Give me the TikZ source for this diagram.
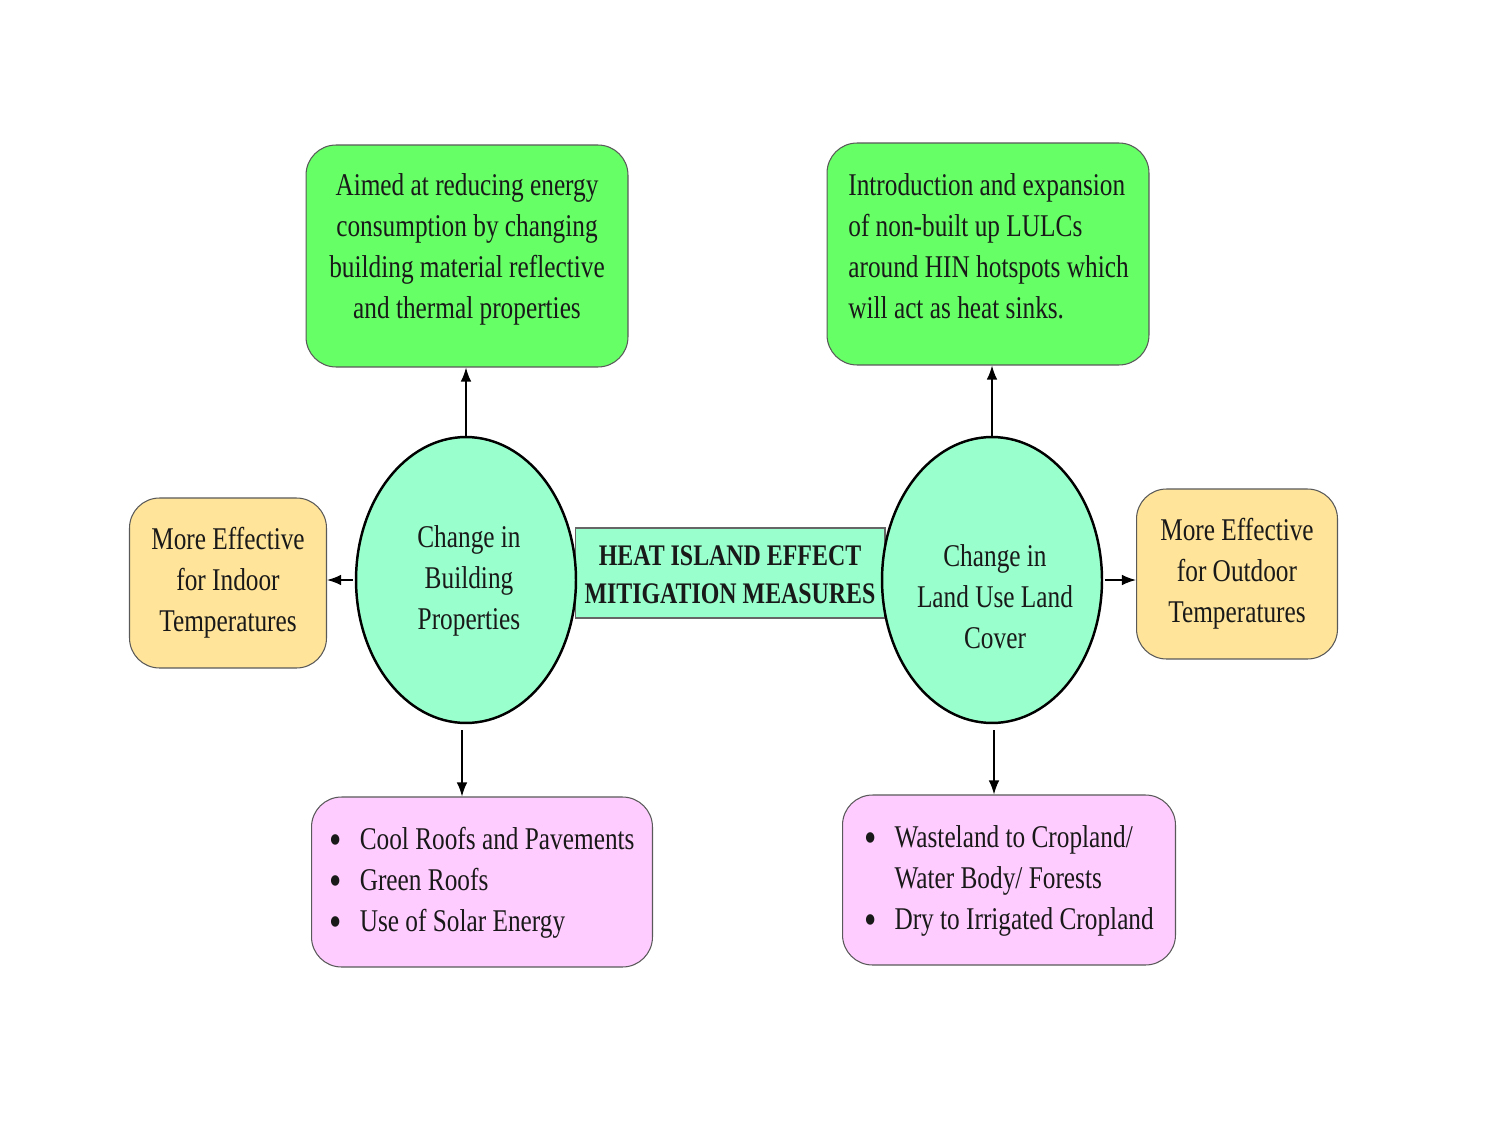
\documentclass[tikz,border=0pt]{standalone}
\usepackage{fontspec}
\setmainfont[FakeStretch=0.8]{Liberation Serif}
\usetikzlibrary{shapes.geometric,arrows.meta}
\definecolor{gbox}{RGB}{102,255,102}
\definecolor{mint}{RGB}{153,255,204}
\definecolor{obox}{RGB}{255,228,153}
\definecolor{pbox}{RGB}{255,204,255}
\newcommand{\bigbul}{\raisebox{-3.2pt}{\fontsize{25}{23.3}\selectfont\textbullet}}
\begin{document}
\begin{tikzpicture}[x=0.02cm,y=-0.02cm,
  every node/.style={font=\fontsize{18}{23.3}\selectfont, text=black!90},
  rbox/.style={draw=black!65, line width=0.6pt, rounded corners=0.6cm, inner sep=0pt},
  greenbox/.style={rbox, fill=gbox, minimum width=6.44cm, minimum height=4.44cm},
  orangebox/.style={rbox, fill=obox, minimum width=3.94cm, minimum height=3.4cm, align=center},
  pinkbox/.style={rbox, fill=pbox, minimum height=3.4cm},
  ell/.style={ellipse, draw=black, line width=1.4pt, fill=mint, minimum width=4.4cm, minimum height=5.72cm, inner sep=0pt, align=center},
  arr/.style={-{Latex[length=8pt,width=6pt]}, line width=0.8pt}]
\useasboundingbox (0,0) rectangle (1500,1125);
\fill[white] (0,0) rectangle (1500,1125);

% banner
\node[draw=black!60, line width=0.6pt, fill=mint, minimum width=6.2cm, minimum height=1.8cm] (ban) at (730,573) {};

% green boxes
\node[greenbox] (g1) at (467,256) {};
\node[align=center] (g1t) at (467,249) {Aimed at reducing energy\\consumption by changing\\building material reflective\\and thermal properties};
\node[greenbox] (g2) at (988,254) {};
\node[align=left, anchor=west, inner sep=0pt] (g2t) at (848,246) {Introduction and expansion\\of non-built up LULCs\\around HIN hotspots which\\will act as heat sinks.};

% ellipses
\node[ell] (e1) at (466,580) {};
\node[align=center] (e1t) at (469,581) {Change in\\Building\\Properties};
\node[ell] (e2) at (992,580) {};
\node[align=center] (e2t) at (995,597) {Change in\\Land Use Land\\Cover};

% title
\node[align=center, font=\fontsize{17}{21.5}\selectfont\bfseries] (title) at (730,575) {HEAT ISLAND EFFECT\\MITIGATION MEASURES};

% orange boxes
\node[orangebox] (o1) at (228,583) {More Effective\\for Indoor\\Temperatures};
\node[orangebox, minimum width=4.02cm] (o2) at (1237,574) {More Effective\\for Outdoor\\Temperatures};

% pink boxes
\node[pinkbox, minimum width=6.82cm] (p1) at (482,882) {%
  \begin{tabular}{@{}l@{\hspace{0.36cm}}l@{}}
  \bigbul & Cool Roofs and Pavements\\
  \bigbul & Green Roofs\\
  \bigbul & Use of Solar Energy
  \end{tabular}};
\node[pinkbox, minimum width=6.66cm] (p2) at (1009,880) {%
  \begin{tabular}{@{}l@{\hspace{0.36cm}}l@{}}
  \bigbul & Wasteland to Cropland/\\
   & Water Body/ Forests\\
  \bigbul & Dry to Irrigated Cropland
  \end{tabular}};

% arrows
\draw[arr] (e1.north) -- (e1.north |- g1.south);
\draw[arr] (e2.north) -- (e2.north |- g2.south);
\draw[arr] ([xshift=-1pt]e1.west) -- (e1.west -| o1.east);
\draw[arr] ([xshift=1pt]e2.east) -- (e2.east -| o2.west);
\draw[arr] ([xshift=-0.08cm,yshift=-0.12cm]e1.south) -- ([xshift=-0.08cm]e1.south |- p1.north);
\draw[arr] ([xshift=0.04cm,yshift=-0.12cm]e2.south) -- ([xshift=0.04cm]e2.south |- p2.north);
\end{tikzpicture}
\end{document}
